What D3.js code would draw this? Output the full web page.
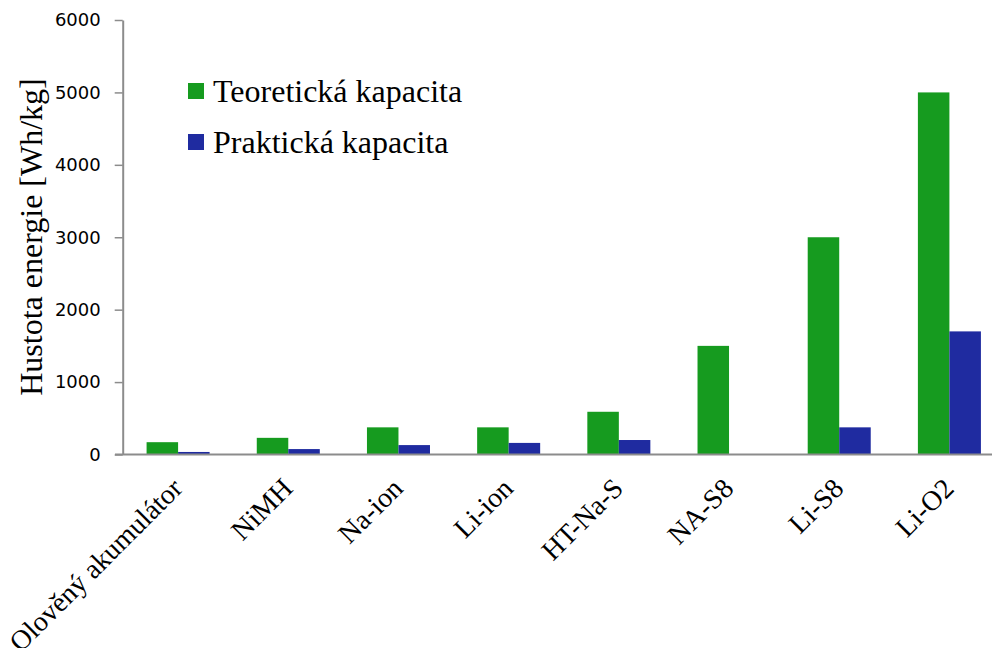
<!DOCTYPE html>
<html><head><meta charset="utf-8">
<script src="https://cdn.jsdelivr.net/npm/d3@7"></script>
<style>html,body{margin:0;padding:0;background:#fff;overflow:hidden}</style>
</head><body>
<script>
const categories = ["Olověný akumulátor","NiMH","Na-ion","Li-ion","HT-Na-S","NA-S8","Li-S8","Li-O2"];
const seriesNames = ["Teoretická kapacita","Praktická kapacita"];
const teoreticka = [170, 230, 375, 375, 590, 1500, 3000, 5000];
const prakticka = [35, 75, 130, 160, 200, 0, 375, 1700];
const yTicks = [0,1000,2000,3000,4000,5000,6000];
const colors = ["#169b1f","#1f2ba0"];

const W = 992, H = 648;
const svg = d3.select("body").append("svg").attr("width", W).attr("height", H);

const x = d3.scaleBand().domain(categories).range([123, 1004.5]).paddingInner(0.428).paddingOuter(0.214);
const xs = d3.scaleBand().domain(seriesNames).range([0, x.bandwidth()]).padding(0);
const y = d3.scaleLinear().domain([0, 6000]).range([454.5, 20]);

const data = categories.map((c,i)=>({cat:c, vals:[teoreticka[i], prakticka[i]]}));

// bars
const g = svg.selectAll("g.grp").data(data).join("g").attr("class","grp")
  .attr("transform", d=>`translate(${x(d.cat)},0)`);
g.selectAll("rect").data(d=>d.vals.map((v,j)=>({v, s:seriesNames[j], j})))
  .join("rect")
  .attr("x", d=>xs(d.s)).attr("width", xs.bandwidth())
  .attr("y", d=>y(d.v)).attr("height", d=>y(0)-y(d.v))
  .attr("fill", d=>colors[d.j]);

// x axis line
svg.append("line").attr("x1",115).attr("x2",W).attr("y1",y(0)).attr("y2",y(0))
  .attr("stroke","#8c8c8c").attr("stroke-width",2);

// y axis
const yAxis = d3.axisLeft(y).tickValues(yTicks).tickSize(8).tickSizeOuter(0).tickPadding(14).tickFormat(d3.format("d"));
const ya = svg.append("g").attr("transform","translate(122.7,0)").call(yAxis);
ya.select(".domain").attr("stroke","#8c8c8c").attr("stroke-width",2);
ya.selectAll(".tick line").attr("stroke","#8c8c8c").attr("stroke-width",1.5);
ya.selectAll(".tick text").attr("font-family","'DejaVu Sans', Verdana, sans-serif")
  .attr("font-size",18).attr("fill","#000");

// x labels
svg.selectAll("text.xl").data(categories).join("text").attr("class","xl")
  .attr("transform", d=>`translate(${x(d)+x.bandwidth()/2+6},${490}) rotate(-45)`)
  .attr("text-anchor","end")
  .attr("font-family","'Liberation Serif','Times New Roman',serif")
  .attr("font-size",28).attr("fill","#000")
  .text(d=>d);

// y title
svg.append("text").attr("transform","translate(42,237) rotate(-90)")
  .attr("text-anchor","middle")
  .attr("font-family","'Liberation Serif','Times New Roman',serif")
  .attr("font-size",32).attr("fill","#000")
  .text("Hustota energie [Wh/kg]");

// legend
const lg = svg.selectAll("g.lg").data(seriesNames).join("g").attr("class","lg")
  .attr("transform",(d,i)=>`translate(188,${83+i*51})`);
lg.append("rect").attr("width",16).attr("height",16).attr("fill",(d,i)=>colors[i]);
lg.append("text").attr("x",25).attr("y",19)
  .attr("font-family","'Liberation Serif','Times New Roman',serif")
  .attr("font-size",32).attr("fill","#000").text(d=>d);
</script>
</body></html>
